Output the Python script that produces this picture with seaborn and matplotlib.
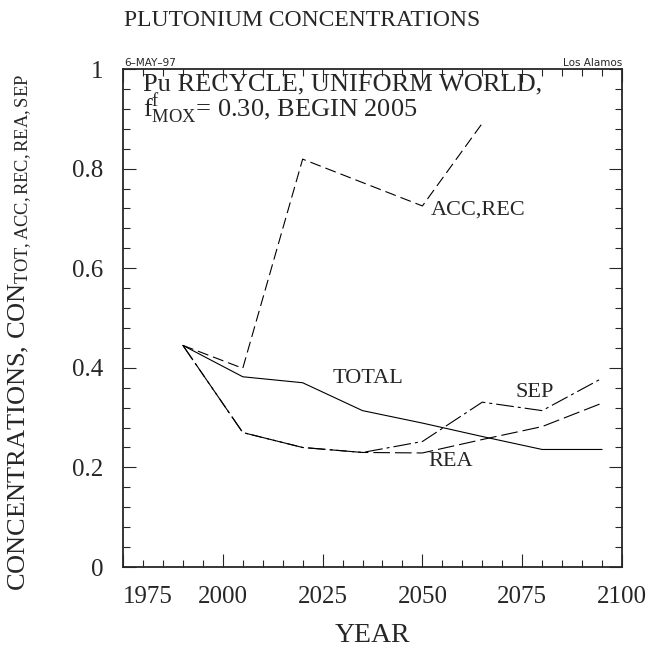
import numpy as np
import pandas as pd
import seaborn as sns
import matplotlib
matplotlib.use('Agg')
import matplotlib.pyplot as plt

# Valores
anos = [1990, 2005, 2020, 2035, 2050, 2065, 2080, 2095]
total = [0.445, 0.382, 0.370, 0.314, 0.289, 0.262, 0.236, 0.236]
acc_rec = [0.445, 0.399, 0.819, 0.772, 0.725, 0.891, np.nan, np.nan]
rea = [0.445, 0.270, 0.240, 0.230, 0.229, 0.256, 0.282, 0.329]
sep = [0.445, 0.270, 0.240, 0.230, 0.252, 0.331, 0.314, 0.379]

xticks = [1975, 2000, 2025, 2050, 2075, 2100]
yticks = [0, 0.2, 0.4, 0.6, 0.8, 1]
ytick_labels = ['0', '0.2', '0.4', '0.6', '0.8', '1']

# base em formato longo
df = pd.concat([
    pd.DataFrame({'Ano': anos, 'Conc': total, 'Serie': 'TOTAL'}),
    pd.DataFrame({'Ano': anos, 'Conc': acc_rec, 'Serie': 'ACC,REC'}),
    pd.DataFrame({'Ano': anos, 'Conc': rea, 'Serie': 'REA'}),
    pd.DataFrame({'Ano': anos, 'Conc': sep, 'Serie': 'SEP'}),
]).dropna()

sns.set_style('ticks')
plt.rcParams['font.family'] = ['Liberation Serif', 'DejaVu Serif']
plt.rcParams['mathtext.fontset'] = 'custom'
plt.rcParams['mathtext.rm'] = 'Liberation Serif'
plt.rcParams['mathtext.it'] = 'Liberation Serif:italic'

W, H = 649, 653
fig = plt.figure(figsize=(W / 100, H / 100), dpi=100)
ax = fig.add_axes([123 / W, 1 - 567 / H, (622 - 123) / W, (567 - 69) / H])

estilos = {'TOTAL': '', 'ACC,REC': (10, 4.5), 'REA': (15, 4.5), 'SEP': (16, 3.6, 2.7, 3.6)}
cores = {'TOTAL': 'black', 'ACC,REC': 'black', 'REA': 'black', 'SEP': 'black'}
sns.lineplot(data=df, x='Ano', y='Conc', hue='Serie', style='Serie',
             palette=cores, dashes=estilos, linewidth=0.8, legend=False,
             estimator=None, sort=False, ax=ax)

ax.set_xlim(1975, 2100)
ax.set_ylim(0, 1)
ax.set_xticks(xticks)
ax.set_xticklabels([str(a) for a in xticks], fontsize=18)
ax.set_yticks(yticks)
ax.set_yticklabels(ytick_labels, fontsize=18)
ax.set_xticks(np.arange(1975, 2101, 5), minor=True)
ax.set_yticks(np.arange(0, 1.001, 0.04), minor=True)
ax.tick_params(which='both', direction='in', top=True, right=True, width=0.8)
ax.tick_params(which='major', length=9.5, pad=14)
ax.tick_params(which='minor', length=5)
ax.get_xticklabels()[0].set_horizontalalignment('left')
for s in ax.spines.values():
    s.set_linewidth(1.3)
ax.set_xlabel('')
ax.set_ylabel('')

# rotulos das curvas
ax.text(2027.5, 0.379, 'TOTAL', fontsize=16, va='center')
ax.text(2052, 0.716, 'ACC,REC', fontsize=16, va='center')
ax.text(2073.2, 0.350, 'SEP', fontsize=16, va='center')
ax.text(2051.5, 0.211, 'REA', fontsize=16, va='center')

def fx(px):
    return px / W

def fy(py):
    return 1 - py / H

fig.text(fx(302), fy(20), 'PLUTONIUM CONCENTRATIONS', fontsize=17, ha='center', va='center')
fig.text(fx(124), fy(66), '6\u2013MAY\u201397', fontsize=7.5, family='DejaVu Sans', ha='left', va='baseline')
fig.text(fx(622), fy(66), 'Los Alamos', fontsize=7.5, family='DejaVu Sans', ha='right', va='baseline')
fig.text(fx(143), fy(90), 'Pu RECYCLE, UNIFORM WORLD,', fontsize=19, ha='left', va='baseline')
fig.text(fx(143), fy(117), r'f$^{\mathrm{f}}_{\mathrm{MOX}}$= 0.30, BEGIN 2005', fontsize=19,
         ha='left', va='baseline')
fig.text(fx(372), fy(636), 'YEAR', fontsize=20, ha='center', va='center')
fig.text(fx(20), fy(333), r'CONCENTRATIONS, CON$_{\mathrm{TOT,ACC,REC,REA,SEP}}$', fontsize=19,
         rotation=90, ha='center', va='center')

fig.savefig('out.png', dpi=100)
